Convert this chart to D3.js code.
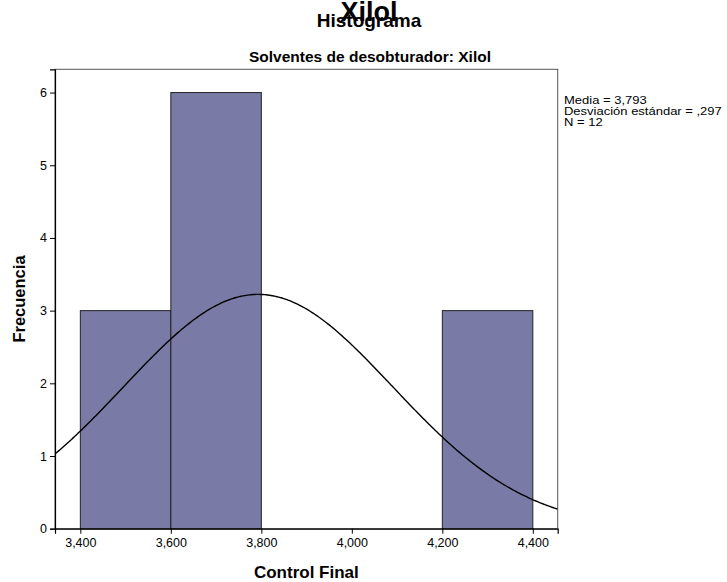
<!DOCTYPE html>
<html>
<head>
<meta charset="utf-8">
<script src="https://cdn.jsdelivr.net/npm/d3@7"></script>
<style>
  html, body { margin: 0; padding: 0; background: #fff; }
  svg { display: block; }
  text { font-family: "Liberation Sans", Arial, sans-serif; fill: #000; }
</style>
</head>
<body>
<svg id="chart" width="727" height="582"></svg>
<script>
// ---- data ----
const binStarts = [3400, 3600, 4200];
const binEnds   = [3600, 3800, 4400];
const counts    = [3, 6, 3];
const xTicks = [3400, 3600, 3800, 4000, 4200, 4400];
const yTicks = [0, 1, 2, 3, 4, 5, 6];
const mean = 3793;
const sd = 297;
const n = 12;
const binWidth = 200;
const legendLines = ["Media = 3,793", "Desviación estándar = ,297", "N = 12"];

// ---- layout ----
const svg = d3.select("#chart");
const pLeft = 55, pRight = 557.7, pTop = 69.3, pBottom = 528.7;
const x = d3.scaleLinear().domain([3344, 4455]).range([pLeft, pRight]);
const y = d3.scaleLinear().domain([0, 6.32]).range([pBottom, pTop]);

// frame
svg.append("rect")
  .attr("x", pLeft).attr("y", pTop)
  .attr("width", pRight - pLeft).attr("height", pBottom - pTop)
  .attr("fill", "none").attr("stroke", "#555").attr("stroke-width", 1);

// bars
svg.append("g").selectAll("rect")
  .data(counts)
  .join("rect")
  .attr("x", (d, i) => x(binStarts[i]))
  .attr("y", d => y(d))
  .attr("width", (d, i) => x(binEnds[i]) - x(binStarts[i]))
  .attr("height", d => y(0) - y(d))
  .attr("fill", "#7a7aa7")
  .attr("stroke", "#222")
  .attr("stroke-width", 1);

// normal curve
svg.append("clipPath").attr("id", "clip")
  .append("rect").attr("x", pLeft).attr("y", pTop)
  .attr("width", pRight - pLeft).attr("height", pBottom - pTop);
const pdf = v => n * binWidth / (sd * Math.sqrt(2 * Math.PI)) * Math.exp(-0.5 * Math.pow((v - mean) / sd, 2));
const xs = d3.range(0, 301).map(i => 3344 + (4455 - 3344) * i / 300);
svg.append("path")
  .datum(xs)
  .attr("clip-path", "url(#clip)")
  .attr("fill", "none")
  .attr("stroke", "#000")
  .attr("stroke-width", 1.4)
  .attr("d", d3.line().x(v => x(v)).y(v => y(pdf(v))).curve(d3.curveBasis));

// axes
const xAxis = svg.append("g")
  .attr("transform", `translate(0,${pBottom})`)
  .call(d3.axisBottom(x).tickValues(xTicks).tickFormat(d3.format(",")).tickSize(5).tickPadding(4));
const yAxis = svg.append("g")
  .attr("transform", `translate(${pLeft},0)`)
  .call(d3.axisLeft(y).tickValues(yTicks).tickFormat(d3.format("d")).tickSize(5).tickPadding(3));
[xAxis, yAxis].forEach(g => {
  g.select(".domain").attr("stroke", "#000").attr("stroke-width", 1.2);
  g.selectAll(".tick line").attr("stroke", "#000");
  g.selectAll(".tick text")
    .style("font-family", "'Liberation Sans', Arial, sans-serif")
    .style("font-size", "12.5px").attr("fill", "#222");
});

// titles
svg.append("text").attr("x", 369).attr("y", 27)
  .attr("text-anchor", "middle").style("font-size", "19px").style("font-weight", "bold")
  .text("Histograma");
svg.append("text").attr("x", 369).attr("y", 20.5)
  .attr("text-anchor", "middle").style("font-size", "27px").style("font-weight", "bold")
  .text("Xilol");
svg.append("text").attr("x", 370).attr("y", 62)
  .attr("text-anchor", "middle").style("font-size", "15.5px").style("font-weight", "bold")
  .text("Solventes de desobturador: Xilol");

// axis titles
svg.append("text").attr("x", (pLeft + pRight) / 2).attr("y", 578)
  .attr("text-anchor", "middle").style("font-size", "17px").style("font-weight", "bold")
  .text("Control Final");
svg.append("text")
  .attr("transform", `translate(25,${(pTop + pBottom) / 2}) rotate(-90)`)
  .attr("text-anchor", "middle").style("font-size", "16.5px").style("font-weight", "bold")
  .text("Frecuencia");

// legend
svg.append("g").selectAll("text")
  .data(legendLines)
  .join("text")
  .attr("x", 564)
  .attr("y", (d, i) => 104 + i * 11)
  .style("font-size", "11.5px")
  .attr("transform", "translate(564,0) scale(1.13,1) translate(-564,0)")
  .text(d => d);
</script>
</body>
</html>
